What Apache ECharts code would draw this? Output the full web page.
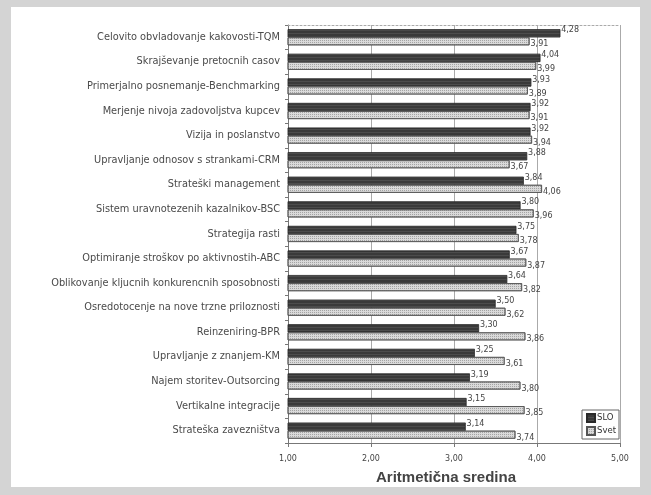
<!DOCTYPE html>
<html>
<head>
<meta charset="utf-8">
<script src="https://cdn.jsdelivr.net/npm/echarts@6/dist/echarts.min.js"></script>
<style>
  html, body { margin: 0; padding: 0; background: #d4d4d4; }
  #chart { width: 651px; height: 495px; }
</style>
</head>
<body>
<div id="chart"></div>
<script>
// Management tools: mean score (1-5) in Slovenia vs. world
const categories = [
  'Celovito obvladovanje kakovosti-TQM',
  'Skrajševanje pretocnih casov',
  'Primerjalno posnemanje-Benchmarking',
  'Merjenje nivoja zadovoljstva kupcev',
  'Vizija in poslanstvo',
  'Upravljanje odnosov s strankami-CRM',
  'Strateški management',
  'Sistem uravnotezenih kazalnikov-BSC',
  'Strategija rasti',
  'Optimiranje stroškov po aktivnostih-ABC',
  'Oblikovanje kljucnih konkurencnih sposobnosti',
  'Osredotocenje na nove trzne priloznosti',
  'Reinzeniring-BPR',
  'Upravljanje z znanjem-KM',
  'Najem storitev-Outsorcing',
  'Vertikalne integracije',
  'Strateška zavezništva'
];
const slo  = [4.28, 4.04, 3.93, 3.92, 3.92, 3.88, 3.84, 3.80, 3.75, 3.67, 3.64, 3.50, 3.30, 3.25, 3.19, 3.15, 3.14];
const svet = [3.91, 3.99, 3.89, 3.91, 3.94, 3.67, 4.06, 3.96, 3.78, 3.87, 3.82, 3.62, 3.86, 3.61, 3.80, 3.85, 3.74];
const seriesNames = ['SLO', 'Svet'];
const axisMin = 1, axisMax = 5, axisStep = 1;

const fmt = v => v.toFixed(2).replace('.', ',');
const FONT = 'DejaVu Sans, Verdana, sans-serif';
const TITLE_FONT = 'Liberation Sans, Arial, sans-serif';

const chart = echarts.init(document.getElementById('chart'), null, { renderer: 'canvas' });

chart.setOption({
  animation: false,
  backgroundColor: '#d4d4d4',
  textStyle: { fontFamily: FONT },
  graphic: [{
    type: 'rect', z: -10, silent: true,
    shape: { x: 11, y: 7, width: 629, height: 480 },
    style: { fill: '#ffffff' }
  }],
  grid: { left: 288, right: 31, top: 25, bottom: 52, containLabel: false },
  legend: {
    orient: 'vertical',
    right: 32, bottom: 56,
    backgroundColor: '#ffffff',
    borderColor: '#666', borderWidth: 1, borderRadius: 0,
    padding: [3, 3, 3, 4],
    itemGap: 3,
    itemWidth: 8, itemHeight: 8,
    textStyle: { fontSize: 8.5, color: '#333', fontFamily: FONT, padding: [0, 0, 0, -3] },
    data: seriesNames.map(n => ({ name: n, icon: 'rect' }))
  },
  xAxis: [{
    type: 'value',
    min: axisMin, max: axisMax, interval: axisStep,
    position: 'bottom',
    name: 'Aritmetična sredina',
    nameLocation: 'middle',
    nameGap: 27,
    nameTextStyle: { fontSize: 15, fontWeight: 'bold', color: '#444', fontFamily: TITLE_FONT, padding: [0, 16, 0, 0] },
    axisLine: { show: true, lineStyle: { color: '#777', width: 1 } },
    axisTick: { show: true, inside: false, length: 4, lineStyle: { color: '#777' } },
    axisLabel: { fontSize: 8, color: '#444', margin: 12, formatter: v => fmt(v) },
    splitLine: { show: true, lineStyle: { color: '#aaa', width: 1 } }
  }, {
    type: 'value',
    min: axisMin, max: axisMax, interval: axisStep,
    position: 'top',
    axisLine: { show: true, lineStyle: { color: '#aaa', width: 1, type: [2, 2] } },
    axisTick: { show: false },
    axisLabel: { show: false },
    splitLine: { show: false }
  }],
  yAxis: {
    type: 'category',
    data: categories,
    inverse: true,
    axisLine: { show: true, lineStyle: { color: '#777', width: 1 } },
    axisTick: { show: true, alignWithLabel: false, length: 3, lineStyle: { color: '#777' } },
    axisLabel: { fontSize: 9.8, color: '#4a4a4a', margin: 8, fontFamily: FONT }
  },
  series: [{
    name: seriesNames[0],
    type: 'bar',
    data: slo,
    barWidth: 8,
    barGap: '0%',
    itemStyle: {
      color: '#3a3a3a', borderColor: '#2a2a2a', borderWidth: 0.5,
      decal: { symbol: 'rect', symbolSize: 1, color: 'rgba(110,110,110,0.35)', dashArrayX: [1, 0], dashArrayY: [1, 2], rotation: 0 }
    },
    label: {
      show: true, position: 'right', distance: 1, offset: [0, -3],
      fontSize: 8, color: '#444', fontFamily: FONT, formatter: p => fmt(p.value)
    }
  }, {
    name: seriesNames[1],
    type: 'bar',
    data: svet,
    barWidth: 8,
    barGap: '0%',
    itemStyle: {
      color: '#dadada', borderColor: '#555', borderWidth: 0.8,
      decal: { symbol: 'rect', symbolSize: 1, color: 'rgba(110,110,110,0.5)', dashArrayX: [1, 1], dashArrayY: [1, 1], rotation: 0 }
    },
    label: {
      show: true, position: 'right', distance: 1, offset: [0, 3],
      fontSize: 8, color: '#444', fontFamily: FONT, formatter: p => fmt(p.value)
    }
  }]
});
</script>
</body>
</html>
